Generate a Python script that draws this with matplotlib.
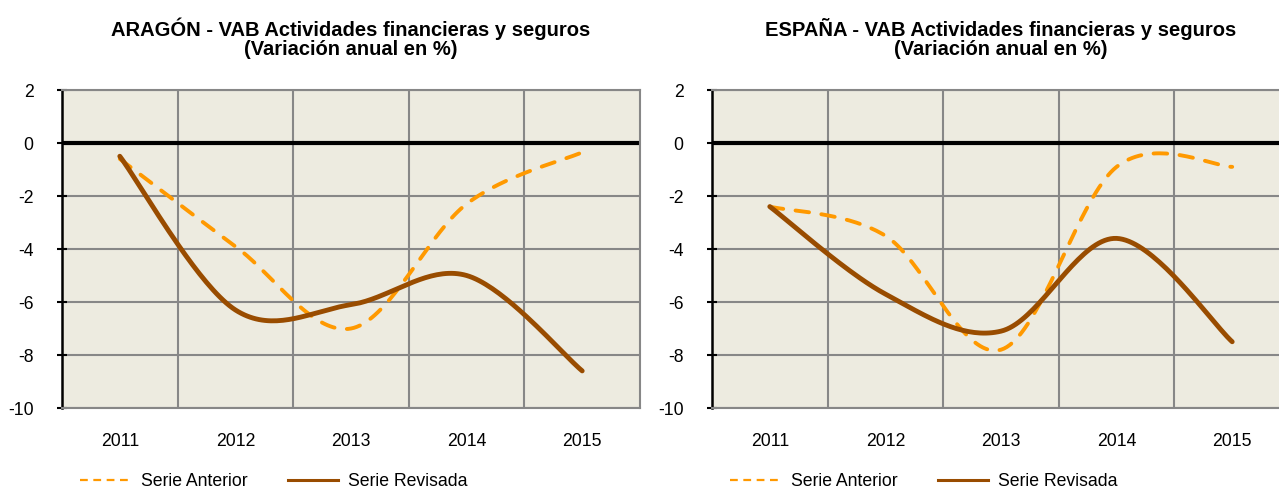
import numpy as np
import matplotlib
matplotlib.use('Agg')
import matplotlib.pyplot as plt
from matplotlib.lines import Line2D

plt.rcParams['font.family'] = ['Liberation Sans', 'DejaVu Sans']
plt.rcParams['axes.unicode_minus'] = False

years = ['2011', '2012', '2013', '2014', '2015']

aragon_anterior = [-0.6, -3.9, -7.0, -2.3, -0.35]
aragon_revisada = [-0.5, -6.3, -6.1, -5.0, -8.6]

espana_anterior = [-2.4, -3.5, -7.8, -0.9, -0.9]
espana_revisada = [-2.4, -5.7, -7.1, -3.6, -7.5]

titles = ['ARAGÓN - VAB Actividades financieras y seguros\n(Variación anual en %)',
          'ESPAÑA - VAB Actividades financieras y seguros\n(Variación anual en %)']

ORANGE = '#FF9900'
BROWN = '#994C00'
BG = '#EDEBE0'
GRID = '#878787'


def smooth(y, n=40):
    # Excel-style smoothed line: cubic bezier through the points
    y = np.asarray(y, dtype=float)
    x = np.arange(len(y), dtype=float)
    pts = np.column_stack([x, y])
    out = []
    for i in range(len(pts) - 1):
        p0 = pts[i]
        p3 = pts[i + 1]
        prev = pts[i - 1] if i > 0 else pts[i]
        nxt = pts[i + 2] if i + 2 < len(pts) else pts[i + 1]
        p1 = p0 + (p3 - prev) / 6.0
        p2 = p3 - (nxt - p0) / 6.0
        t = np.linspace(0, 1, n)[:, None]
        seg = ((1 - t) ** 3) * p0 + 3 * ((1 - t) ** 2) * t * p1 + 3 * (1 - t) * t ** 2 * p2 + t ** 3 * p3
        out.append(seg if i == 0 else seg[1:])
    seg = np.vstack(out)
    return seg[:, 0], seg[:, 1]


fig = plt.figure(figsize=(12.79, 4.9), dpi=100)
W, H = 1279.0, 490.0
ax1 = fig.add_axes([62 / W, 1 - 408 / H, 578 / W, 318 / H])
ax2 = fig.add_axes([712 / W, 1 - 408 / H, 578 / W, 318 / H])

for ax, ant, rev, title in [(ax1, aragon_anterior, aragon_revisada, titles[0]),
                            (ax2, espana_anterior, espana_revisada, titles[1])]:
    ax.set_facecolor(BG)
    ax.set_xlim(-0.5, len(years) - 0.5)
    ax.set_ylim(-10, 2)
    ax.set_yticks(np.arange(-10, 3, 2))
    ax.set_xticks(np.arange(len(years)))
    ax.set_xticklabels(years)
    ax.set_xticks(np.arange(len(years) - 1) + 0.5, minor=True)
    ax.grid(True, which='major', axis='y', color=GRID, lw=1.5, zorder=0)
    ax.grid(True, which='minor', axis='x', color=GRID, lw=1.5, zorder=0)
    ax.set_axisbelow(True)
    ax.tick_params(axis='x', which='both', length=0, labelsize=12.7, pad=18)
    ax.tick_params(axis='y', direction='inout', length=7, width=1.5, labelsize=12.7, pad=17)
    for s in ['top', 'right', 'bottom']:
        ax.spines[s].set_color(GRID)
        ax.spines[s].set_linewidth(1.5)
    ax.spines['left'].set_color('black')
    ax.spines['left'].set_linewidth(1.8)
    ax.axhline(0, color='black', lw=3, zorder=1)

    xs, ys = smooth(ant)
    ax.plot(xs, ys, color=ORANGE, lw=2.8, dashes=(3.5, 3.2), dash_capstyle='round', zorder=3)
    xs, ys = smooth(rev)
    ax.plot(xs, ys, color=BROWN, lw=3.5, solid_capstyle='round', zorder=4)

    ax.set_title(title, fontsize=14.5, fontweight='bold', pad=25, linespacing=1.05)

    handles = [Line2D([], [], color=ORANGE, lw=1.6, dashes=(3.5, 2.5)),
               Line2D([], [], color=BROWN, lw=2.2)]
    ax.legend(handles, ['Serie Anterior', 'Serie Revisada'], loc='center',
              bbox_to_anchor=(0.367, -0.232), ncol=2, frameon=False, fontsize=12.7,
              handlelength=2.84, handletextpad=0.57, columnspacing=2.33)

fig.savefig('out.png', dpi=100)
